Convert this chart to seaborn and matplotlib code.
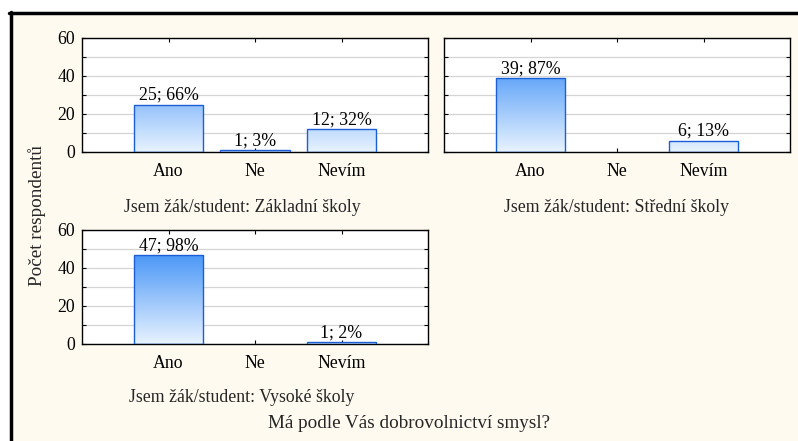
import numpy as np
import pandas as pd
import seaborn as sns
import matplotlib.pyplot as plt
from matplotlib.colors import LinearSegmentedColormap
from matplotlib.lines import Line2D
from matplotlib.ticker import MultipleLocator

# Data
categories = ["Ano", "Ne", "Nevím"]
groups = ["Základní školy", "Střední školy", "Vysoké školy"]
counts_zs = [25, 1, 12]
counts_ss = [39, 0, 6]
counts_vs = [47, 0, 1]
pct_zs = [66, 3, 32]
pct_ss = [87, 0, 13]
pct_vs = [98, 0, 2]

rows = []
for g, cnts, pcts in zip(groups, [counts_zs, counts_ss, counts_vs], [pct_zs, pct_ss, pct_vs]):
    for c, n, p in zip(categories, cnts, pcts):
        if n > 0:
            rows.append({"skupina": g, "odpoved": c, "pocet": n, "procento": p})
df = pd.DataFrame(rows)

sns.set_theme(style="white")
plt.rcParams["font.family"] = ["Liberation Serif", "DejaVu Serif"]

bg = "#fffaf0"
fs = 12.8
fig = plt.figure(figsize=(7.98, 4.41), dpi=100, facecolor=bg)

W, H = 798, 441
def box(l, t, r, b):
    return [l / W, (H - b) / H, (r - l) / W, (b - t) / H]

axes = [
    fig.add_axes(box(82, 38, 428, 152)),
    fig.add_axes(box(444, 38, 790, 152)),
    fig.add_axes(box(82, 230, 428, 344)),
]

grad = LinearSegmentedColormap.from_list("g", ["#e8f3ff", "#1e7df5"])
ymax = 60

for i, (ax, g) in enumerate(zip(axes, groups)):
    sub = df[df["skupina"] == g]
    sns.barplot(data=sub, x="odpoved", y="pocet", order=categories, ax=ax,
                width=0.8, color="#1e7df5", edgecolor="#1a5fd6", linewidth=1.0,
                saturation=1, errorbar=None)
    ax.set_facecolor("white")
    ax.set_xlim(-1, 3)
    ax.set_ylim(0, ymax)
    ax.yaxis.set_major_locator(MultipleLocator(20))
    ax.yaxis.set_minor_locator(MultipleLocator(10))
    ax.grid(True, which="both", axis="y", color="#d4d4d4", linewidth=0.9, zorder=0)
    ax.set_axisbelow(True)
    ax.tick_params(axis="both", which="both", direction="in", top=True, right=True,
                   bottom=True, left=True, length=3, width=0.8, color="black",
                   labelsize=fs, labelcolor="black")
    ax.tick_params(axis="x", pad=8)
    ax.tick_params(axis="y", pad=5)
    if i == 1:
        ax.tick_params(axis="y", labelleft=False)
    for s in ax.spines.values():
        s.set_color("black")
        s.set_linewidth(1.0)
    ax.set_xlabel("")
    ax.set_ylabel("")

    # vertical gradient fill clipped to each bar
    gradient = np.linspace(0, 1, 256).reshape(-1, 1)
    for patch in list(ax.patches):
        h = patch.get_height()
        if h <= 0 or np.isnan(h):
            continue
        x0 = patch.get_x()
        x1 = x0 + patch.get_width()
        im = ax.imshow(gradient, cmap=grad, origin="lower", aspect="auto",
                       extent=[x0, x1, 0, ymax], zorder=2)
        im.set_clip_path(patch)
        patch.set_facecolor("none")
        patch.set_zorder(3)

    for _, r in sub.iterrows():
        xi = categories.index(r["odpoved"])
        ax.text(xi, r["pocet"] + 0.4, f"{int(r['pocet'])}; {int(r['procento'])}%",
                ha="center", va="bottom", fontsize=fs, color="black")
    ax.set_xlim(-1, 3)
    ax.set_ylim(0, ymax)

fig.text(242 / W, 1 - 207 / H, "Jsem žák/student: Základní školy", ha="center", va="center", fontsize=fs)
fig.text(617 / W, 1 - 207 / H, "Jsem žák/student: Střední školy", ha="center", va="center", fontsize=fs)
fig.text(242 / W, 1 - 398 / H, "Jsem žák/student: Vysoké školy", ha="center", va="center", fontsize=fs)
fig.text(409 / W, 1 - 423 / H, "Má podle Vás dobrovolnictví smysl?", ha="center", va="center", fontsize=13.8)
fig.text(37 / W, 1 - 216 / H, "Počet respondentů", ha="center", va="center", rotation=90, fontsize=13.8)

# frame lines along top and left edge
fig.add_artist(Line2D([9 / W, 1], [1 - 13 / H, 1 - 13 / H], color="black", linewidth=2.5, transform=fig.transFigure))
fig.add_artist(Line2D([10.5 / W, 10.5 / W], [0, 1 - 12 / H], color="black", linewidth=2.5, transform=fig.transFigure))
fig.patches.append(plt.Rectangle((0, 1 - 12 / H), 1, 12 / H, transform=fig.transFigure, color="white", zorder=-1))
fig.patches.append(plt.Rectangle((0, 0), 9 / W, 1, transform=fig.transFigure, color="white", zorder=-1))

fig.savefig("out.png", dpi=100, facecolor=bg)
